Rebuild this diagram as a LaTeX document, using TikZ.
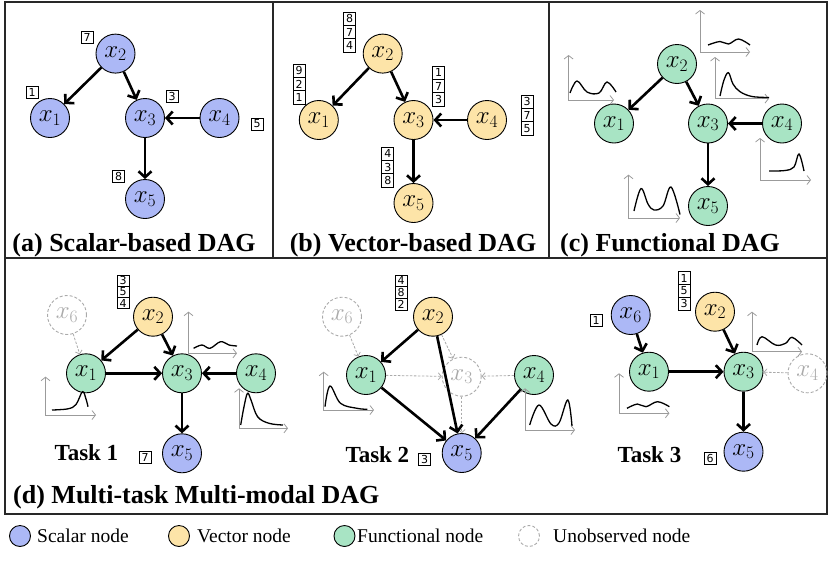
\documentclass[tikz,border=0pt]{standalone}
\usepackage{fix-cm}
\usepackage{fontspec}
\setmainfont{Liberation Serif}
\newfontfamily\digitfont{DejaVu Sans}
\usetikzlibrary{arrows.meta}
\definecolor{scal}{RGB}{172,184,246}
\definecolor{vect}{RGB}{253,228,168}
\definecolor{func}{RGB}{168,228,196}
\definecolor{unob}{RGB}{170,170,170}
\definecolor{axisgray}{RGB}{155,155,155}
\definecolor{framec}{RGB}{40,40,40}
\tikzset{
 nd/.style={circle, draw=black, line width=0.9pt, minimum size=39pt, inner sep=0pt, font=\fontsize{25}{25}\selectfont},
 sc/.style={nd, fill=scal},
 ve/.style={nd, fill=vect},
 fu/.style={nd, fill=func},
 un/.style={nd, draw=unob, dash pattern=on 3pt off 2pt, text=unob},
 edge/.style={line width=2.6pt, -{Straight Barb[length=6pt,width=13pt]}},
 dedge/.style={draw=unob, line width=0.8pt, dash pattern=on 2.5pt off 1.5pt, -{Straight Barb[length=3pt,width=7pt]}},
 axes/.style={draw=axisgray, line width=0.8pt, {Straight Barb[length=3.5pt,width=9pt]}-{Straight Barb[length=3.5pt,width=9pt]}},
 crv/.style={line width=1.3pt},
 dg/.style={draw, line width=0.7pt, minimum width=12pt, minimum height=12pt, inner sep=0pt, font=\digitfont\fontsize{11}{11}\selectfont},
 ttl/.style={font=\bfseries\fontsize{26}{26}\selectfont, anchor=base},
 task/.style={font=\bfseries\fontsize{23}{23}\selectfont, anchor=base west},
 lgc/.style={circle, draw=black, line width=0.9pt, minimum size=21pt, inner sep=0pt},
 lgt/.style={font=\fontsize{19.5}{19.5}\selectfont, anchor=base west, inner sep=0pt},
}
\begin{document}
\begin{tikzpicture}[x=1pt,y=-1pt]
\useasboundingbox (0,0) rectangle (830,560);
% frame
\draw[framec, line width=1.5pt] (5,2) rectangle (827,514);
\draw[framec, line width=1.5pt] (5,258) -- (827,258);
\draw[framec, line width=1.5pt] (273,2) -- (273,258);
\draw[framec, line width=1.5pt] (549,2) -- (549,258);

% ---------- (a)
\node[sc] (a2) at (115.5,53.6) {$x_2$};
\node[sc] (a1) at (50,118) {$x_1$};
\node[sc] (a3) at (145,118) {$x_3$};
\node[sc] (a4) at (219.5,118) {$x_4$};
\node[sc] (a5) at (145,199) {$x_5$};
\draw[edge] (a2) -- (a1);
\draw[edge] (a2) -- (a3);
\draw[edge] (a4) -- (a3);
\draw[edge] (a3) -- (a5);
\node[dg] (la2) at (87,37) {7};
\node[dg] (la1) at (32,92) {1};
\node[dg] (la3) at (172,96) {3};
\node[dg] (la4) at (257,124) {5};
\node[dg] (la5) at (118.5,176.5) {8};
\node[ttl] (ta) at (134,251) {(a) Scalar-based DAG};

% ---------- (b)
\node[ve] (b2) at (382.7,53.6) {$x_2$};
\node[ve] (b1) at (318.8,120) {$x_1$};
\node[ve] (b3) at (413.5,120) {$x_3$};
\node[ve] (b4) at (487,120) {$x_4$};
\node[ve] (b5) at (413.5,203) {$x_5$};
\draw[edge] (b2) -- (b1);
\draw[edge] (b2) -- (b3);
\draw[edge] (b4) -- (b3);
\draw[edge] (b3) -- (b5);
\tikzset{dgb/.style={dg, minimum height=13.3pt}}
\node[dgb] (lb2a) at (349.7,18.7) {8};
\node[dgb] (lb2b) at (349.7,32) {7};
\node[dgb] (lb2c) at (349.7,45.3) {4};
\node[dgb] (lb1a) at (299,70.7) {9};
\node[dgb] (lb1b) at (299,84) {2};
\node[dgb] (lb1c) at (299,97.3) {1};
\node[dgb] (lb3a) at (438.6,72.7) {1};
\node[dgb] (lb3b) at (438.6,86) {7};
\node[dgb] (lb3c) at (438.6,99.3) {3};
\node[dgb] (lb4a) at (527,101.7) {3};
\node[dgb] (lb4b) at (527,115) {7};
\node[dgb] (lb4c) at (527,128.3) {5};
\node[dgb] (lb5a) at (387.8,153.7) {4};
\node[dgb] (lb5b) at (387.8,167) {3};
\node[dgb] (lb5c) at (387.8,180.3) {8};
\node[ttl] (tb) at (413,251) {(b) Vector-based DAG};

% ---------- (c)
\node[fu] (c2) at (677,64) {$x_2$};
\node[fu] (c1) at (614,123.5) {$x_1$};
\node[fu] (c3) at (708,123.5) {$x_3$};
\node[fu] (c4) at (782,123.5) {$x_4$};
\node[fu] (c5) at (708,206) {$x_5$};
\draw[edge] (c2) -- (c1);
\draw[edge] (c2) -- (c3);
\draw[edge] (c4) -- (c3);
\draw[edge] (c3) -- (c5);
% insets
\draw[axes] (568.6,55) -- (568.6,100) -- (614,100);
\draw[crv] plot[smooth, tension=0.6] coordinates {(570,93) (577,81) (587,92) (599,93) (607,82) (616,92)};
\draw[axes] (700,10) -- (700,52) -- (750,52);
\draw[crv] plot[smooth, tension=0.6] coordinates {(708,45) (720,41.5) (728.5,44) (738.6,39) (750,45)};
\draw[axes] (715,57) -- (715,98.6) -- (769,98.6);
\draw[crv] plot[smooth, tension=0.6] coordinates {(720,96) (724,80) (728.5,72.7) (733,84) (740,91.7) (752,96.5) (769,97.5)};
\draw[axes] (760,138) -- (760,180) -- (811,180);
\draw[crv] plot[smooth, tension=0.6] coordinates {(769,171) (785,170.5) (794,167) (799,154) (804,171)};
\draw[axes] (628.5,174.7) -- (628.5,218) -- (680,218);
\draw[crv] plot[smooth, tension=0.6] coordinates {(634,211) (641,188.6) (648,204) (654,210) (663,206) (671,187) (680,214.5)};
\node[ttl] (tc) at (670,251) {(c) Functional DAG};

% ---------- (d) Task 1
\node[un] (d6) at (67,315) {$x_6$};
\node[ve] (d2) at (153,316.7) {$x_2$};
\node[fu] (d1) at (86,373.3) {$x_1$};
\node[fu] (d3) at (182,373.3) {$x_3$};
\node[fu] (d4) at (256,373.3) {$x_4$};
\node[sc] (d5) at (182,453.3) {$x_5$};
\draw[dedge] (d6) -- (d1);
\draw[edge] (d2) -- (d1);
\draw[edge] (d2) -- (d3);
\draw[edge] (d1) -- (d3);
\draw[edge] (d4) -- (d3);
\draw[edge] (d3) -- (d5);
\tikzset{dgd/.style={dg, minimum height=11.2pt}}
\node[dgd] (ld2a) at (123,280.6) {3};
\node[dgd] (ld2b) at (123,291.8) {5};
\node[dgd] (ld2c) at (123,303) {4};
\node[dg] (ld5) at (145,457) {7};
\draw[axes] (188.5,311.7) -- (188.5,353.3) -- (237,353.3);
\draw[crv] plot[smooth, tension=0.6] coordinates {(193.6,348.3) (202,345) (210,348.3) (220.5,341.7) (229,345) (237,346)};
\draw[axes] (45.5,376.7) -- (45.5,415) -- (96,415);
\draw[crv] plot[smooth, tension=0.6] coordinates {(52,410) (68,408.8) (76,404.5) (82.5,391.7) (86,399) (88,406.7)};
\draw[axes] (239,388.3) -- (239,428.3) -- (288,428.3);
\draw[crv] plot[smooth, tension=0.6] coordinates {(240.7,425) (244,406.7) (247.5,393.3) (251,400) (257.6,416.7) (269,423.3) (283,425)};
\node[task] (k1) at (51,460) {Task 1};

% ---------- Task 2
\node[un] (e6) at (342,316.7) {$x_6$};
\node[ve] (e2) at (433,316.7) {$x_2$};
\node[fu] (e1) at (366,375) {$x_1$};
\node[un] (e3) at (461.7,376.7) {$x_3$};
\node[fu] (e4) at (534,375) {$x_4$};
\node[sc] (e5) at (461.7,453) {$x_5$};
\draw[dedge] (e6) -- (e1);
\draw[dedge] (e2) -- (e3);
\draw[dedge] (e1) -- (e3);
\draw[dedge] (e4) -- (e3);
\draw[dedge] (e3) -- (e5);
\draw[edge] (e2) -- (e1);
\draw[edge] (e2) -- (e5);
\draw[edge] (e1) -- (e5);
\draw[edge] (e4) -- (e5);
\tikzset{dge/.style={dg, minimum height=11.7pt}}
\node[dge] (le2a) at (401,280.8) {4};
\node[dge] (le2b) at (401,292.5) {8};
\node[dge] (le2c) at (401,304.2) {2};
\node[dg] (le5) at (424.7,459) {3};
\draw[axes] (323.7,371.7) -- (323.7,410) -- (374,410);
\draw[crv] plot[smooth, tension=0.6] coordinates {(325,406.7) (330,386) (340.5,403.3) (357,408.3) (367.4,409.3)};
\draw[axes] (525,388.3) -- (525,430) -- (575,430);
\draw[crv] plot[smooth, tension=0.6] coordinates {(529.7,425) (539,405) (551,424) (559,423) (567.8,400) (572,426)};
\node[task] (k2) at (342,462) {Task 2};

% ---------- Task 3
\node[sc] (f6) at (630.7,315) {$x_6$};
\node[ve] (f2) at (715,311.7) {$x_2$};
\node[fu] (f1) at (649,371.7) {$x_1$};
\node[fu] (f3) at (743.5,371.7) {$x_3$};
\node[un] (f4) at (807.5,373.3) {$x_4$};
\node[sc] (f5) at (743.5,451.7) {$x_5$};
\draw[edge] (f6) -- (f1);
\draw[edge] (f2) -- (f3);
\draw[edge] (f1) -- (f3);
\draw[dedge] (f4) -- (f3);
\draw[edge] (f3) -- (f5);
\tikzset{dgf/.style={dg, minimum height=12.8pt}}
\node[dgf] (lf2a) at (684,278.1) {1};
\node[dgf] (lf2b) at (684,290.9) {5};
\node[dgf] (lf2c) at (684,303.7) {3};
\node[dg] (lf6) at (596,320) {1};
\node[dg] (lf5) at (710,458) {6};
\draw[axes] (752,311.7) -- (752,351.7) -- (802,351.7);
\draw[crv] plot[smooth, tension=0.6] coordinates {(757,345) (762,336.7) (775.5,345) (785.6,343.3) (792,337.3) (802,345)};
\draw[axes] (619,373.3) -- (619,413.3) -- (669.4,413.3);
\draw[crv] plot[smooth, tension=0.6] coordinates {(627,408.3) (637.4,404) (646,406.7) (657.6,401.7) (669.4,406.7)};
\node[task] (k3) at (614,462) {Task 3};

\node[font=\bfseries\fontsize{26}{26}\selectfont, anchor=base west, inner sep=0pt] (td) at (13,503) {(d) Multi-task Multi-modal DAG};

% ---------- legend
\node[lgc, fill=scal] (g1) at (20,536) {};
\node[lgt] (g1t) at (37,542) {Scalar node};
\node[lgc, fill=vect] (g2) at (179,536) {};
\node[lgt] (g2t) at (197,542) {Vector node};
\node[lgc, fill=func] (g3) at (344.5,536) {};
\node[lgt] (g3t) at (357,542) {Functional node};
\node[lgc, draw=unob, dash pattern=on 3pt off 2pt] (g4) at (529,536) {};
\node[lgt] (g4t) at (553,542) {Unobserved node};
\end{tikzpicture}
\end{document}
